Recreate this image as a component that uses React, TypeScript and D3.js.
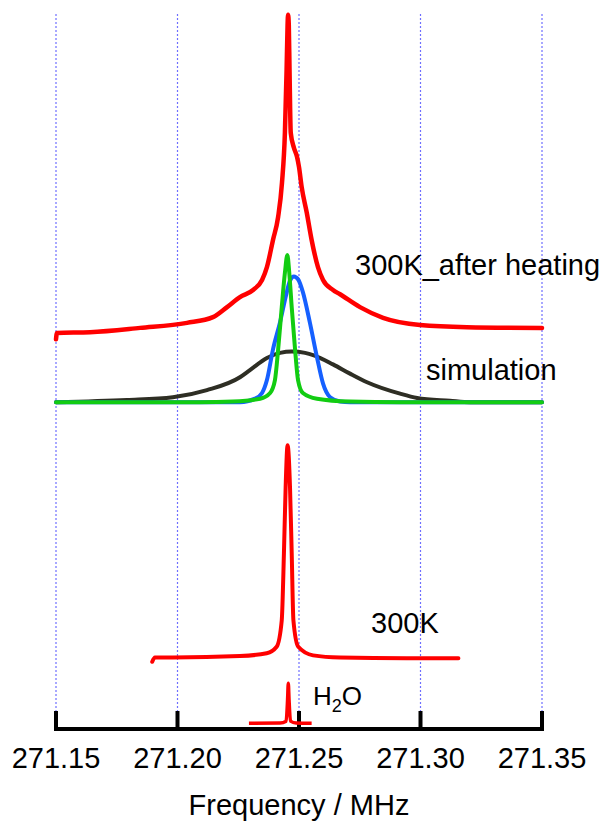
import React from "react";
import * as d3 from "d3";

// frequency (MHz) / intensity (a.u., stacked) pairs
const afterHeating: [number, number][] = [
  [271.15, 5.45], [271.1504, 5.54], [271.164, 5.55], [271.1846, 5.61],
  [271.2039, 5.68], [271.2146, 5.76], [271.2204, 5.9], [271.2257, 6.04],
  [271.2311, 6.14], [271.2348, 6.28], [271.2368, 6.46], [271.2393, 6.84],
  [271.2414, 7.16], [271.243, 7.64], [271.2442, 8.34], [271.2449, 9.22],
  [271.2453, 9.85], [271.2455, 9.99], [271.2458, 9.85], [271.2461, 9.22],
  [271.2466, 8.34], [271.2479, 8.13], [271.2492, 8.0], [271.25, 7.86],
  [271.2511, 7.58], [271.2532, 7.22], [271.2552, 6.84], [271.2578, 6.46],
  [271.2599, 6.28], [271.264, 6.14], [271.2669, 6.08], [271.2751, 5.9],
  [271.2846, 5.75], [271.2998, 5.65], [271.3191, 5.62], [271.35, 5.61],
];

const simBroad: [number, number][] = [
  [271.15, 4.57], [271.1792, 4.6], [271.1981, 4.64], [271.2121, 4.74],
  [271.2257, 4.92], [271.2298, 5.02], [271.2368, 5.19], [271.2422, 5.26],
  [271.2471, 5.28], [271.2525, 5.26], [271.2558, 5.23], [271.264, 5.1],
  [271.271, 4.97], [271.278, 4.85], [271.2916, 4.69], [271.2986, 4.63],
  [271.3121, 4.59], [271.3204, 4.57], [271.35, 4.57],
];

const simMedium: [number, number][] = [
  [271.15, 4.57], [271.2257, 4.57], [271.2319, 4.62], [271.2348, 4.7],
  [271.2368, 4.88], [271.2393, 5.31], [271.2422, 5.69], [271.2447, 6.07],
  [271.2463, 6.27], [271.2479, 6.33], [271.2496, 6.29], [271.2516, 6.11],
  [271.2545, 5.68], [271.2574, 5.2], [271.2599, 4.83], [271.2628, 4.64],
  [271.2669, 4.58], [271.271, 4.57], [271.35, 4.57],
];

const simNarrow: [number, number][] = [
  [271.15, 4.57], [271.2093, 4.57], [271.2228, 4.58], [271.234, 4.62],
  [271.2381, 4.7], [271.2401, 4.88], [271.2414, 5.3], [271.2429, 5.9],
  [271.2442, 6.38], [271.2452, 6.63], [271.246, 6.38], [271.247, 5.9],
  [271.2484, 5.3], [271.2496, 4.88], [271.2516, 4.7], [271.2574, 4.62],
  [271.271, 4.58], [271.2916, 4.57], [271.35, 4.57],
];

const k300: [number, number][] = [
  [271.1896, 0.94], [271.1907, 1.0], [271.1981, 1.0], [271.2257, 1.02],
  [271.2367, 1.06], [271.2408, 1.15], [271.2429, 1.52], [271.2438, 2.46],
  [271.2445, 3.38], [271.2453, 3.97], [271.2463, 3.38], [271.247, 2.46],
  [271.2477, 1.52], [271.2497, 1.15], [271.2558, 1.03], [271.2669, 1.0],
  [271.2943, 0.99], [271.3156, 0.99],
];

const water: [number, number][] = [
  [271.2294, 0.08], [271.2422, 0.084], [271.2447, 0.11], [271.2453, 0.41],
  [271.2456, 0.64], [271.2459, 0.41], [271.2465, 0.11], [271.2488, 0.084],
  [271.2552, 0.08],
];

const tickValues = [271.15, 271.2, 271.25, 271.3, 271.35];

const width = 608;
const height = 825;

export default function App() {
  const x = d3.scaleLinear().domain([271.15, 271.35]).range([56, 542]);
  const y = d3.scaleLinear().domain([0, 10]).range([729, 14]);
  const line = d3
    .line<[number, number]>()
    .x((d) => x(d[0]))
    .y((d) => y(d[1]))
    .curve(d3.curveMonotoneX);

  const font = "'Liberation Sans', Arial, Helvetica, sans-serif";

  const traces = [
    { data: simBroad, color: "#2e2e24", w: 4 },
    { data: simMedium, color: "#1660ff", w: 4 },
    { data: simNarrow, color: "#12cc12", w: 4 },
    { data: afterHeating, color: "#ff0000", w: 4.5 },
    { data: k300, color: "#ff0000", w: 4 },
  ];

  return (
    <svg
      width={width}
      height={height}
      style={{ position: "absolute", left: 0, top: 0, background: "#fff" }}
      fontFamily={font}
    >
      {/* dotted grid */}
      {tickValues.map((t) => (
        <line
          key={"g" + t}
          x1={x(t)}
          x2={x(t)}
          y1={y(10)}
          y2={711}
          stroke="#6f6fff"
          strokeWidth={1.2}
          strokeDasharray="2,2"
        />
      ))}

      {traces.map((t, i) => (
        <path
          key={i}
          d={line(t.data) || ""}
          fill="none"
          stroke={t.color}
          strokeWidth={t.w}
          strokeLinejoin="round"
          strokeLinecap="round"
        />
      ))}

      {/* axis */}
      <line x1={x(271.15) - 2} x2={x(271.35) + 2} y1={y(0)} y2={y(0)} stroke="#000" strokeWidth={4} />
      {tickValues.map((t) => (
        <g key={"t" + t}>
          <line x1={x(t)} x2={x(t)} y1={711} y2={y(0)} stroke="#000" strokeWidth={4} />
          <text x={x(t)} y={768} textAnchor="middle" fontSize={29}>
            {t.toFixed(2)}
          </text>
        </g>
      ))}

      <path
        d={line(water) || ""}
        fill="none"
        stroke="#ff0000"
        strokeWidth={3.5}
        strokeLinejoin="round"
      />

      <text x={299} y={815} textAnchor="middle" fontSize={29}>
        Frequency / MHz
      </text>

      <text x={355} y={275} fontSize={29}>300K_after heating</text>
      <text x={426} y={380} fontSize={29}>simulation</text>
      <text x={371} y={633} fontSize={29}>300K</text>
      <text x={313} y={705} fontSize={26}>
        H<tspan fontSize={18} dy={7}>2</tspan>
        <tspan dy={-7}>O</tspan>
      </text>
    </svg>
  );
}
